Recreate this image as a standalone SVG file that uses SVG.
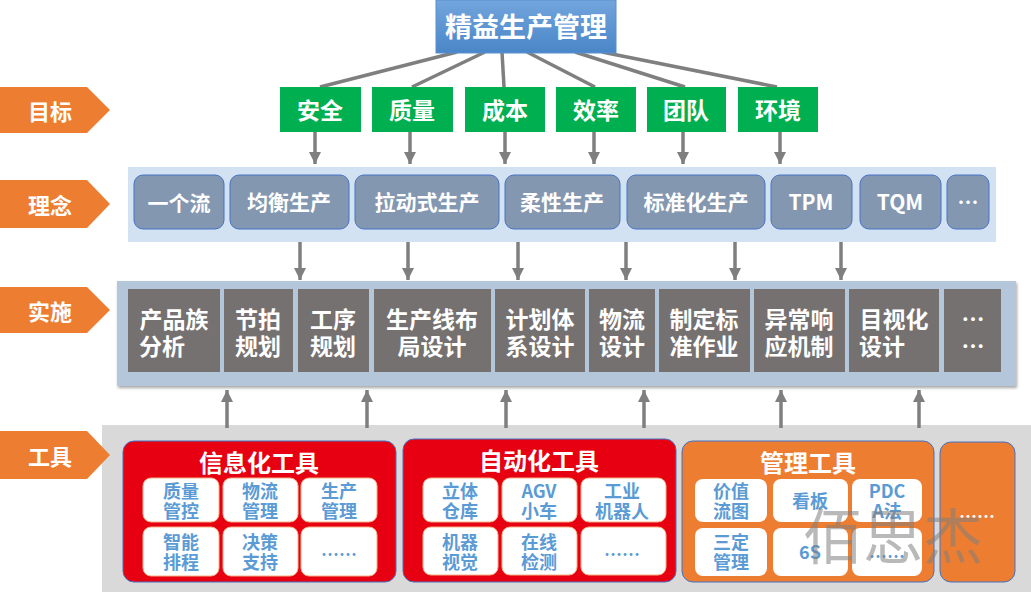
<svg xmlns="http://www.w3.org/2000/svg" width="1031" height="592" viewBox="0 0 1031 592">
<defs>
<linearGradient id="gTop" x1="0" y1="0" x2="0" y2="1">
<stop offset="0" stop-color="#72a5dc"/>
<stop offset="1" stop-color="#4a86c8"/>
</linearGradient>
<marker id="ah" markerUnits="userSpaceOnUse" markerWidth="14" markerHeight="12" refX="12" refY="6" orient="auto">
<path d="M0,0 L12,6 L0,12 Z" fill="#7f7f7f"/>
</marker>
<filter id="sh" x="-5%" y="-10%" width="110%" height="130%">
<feDropShadow dx="1" dy="2" stdDeviation="1.5" flood-color="#000" flood-opacity="0.35"/>
</filter>
<style>
text{font-family:"Noto Sans CJK SC","Liberation Sans",sans-serif;font-weight:bold;text-anchor:middle;dominant-baseline:central}
.w{fill:#fff}
.lbl{fill:#ed7d31}
.goal{fill:#00b050}
.idea{fill:#8497b0;stroke:#4472c4;stroke-width:1}
.impl{fill:#767171}
.inner{fill:#fff;stroke:#f4b183;stroke-width:1}
.it{fill:#5b9bd5;font-size:18px}
.conn{stroke:#7f7f7f;stroke-width:3.5;fill:none}
.arr{stroke:#7f7f7f;stroke-width:3.5;fill:none;marker-end:url(#ah)}
</style>
</defs>

<!-- panels -->
<rect x="128" y="167" width="868" height="75" fill="#d3e2f2"/>
<rect x="117" y="281" width="899" height="105" fill="#b4c7da" filter="url(#sh)"/>
<rect x="102" y="425" width="929" height="167" fill="#d9d9d9"/>

<!-- row labels -->
<g id="label-goal"><polygon class="lbl" points="0,87 87,87 110,110 87,133 0,133"/><text class="w" x="50" y="110" font-size="22">目标</text></g>
<g id="label-idea"><polygon class="lbl" points="0,180 87,180 110,204 87,228 0,228"/><text class="w" x="50" y="204" font-size="22">理念</text></g>
<g id="label-impl"><polygon class="lbl" points="0,287 87,287 110,310 87,333 0,333"/><text class="w" x="50" y="310" font-size="22">实施</text></g>
<g id="label-tool"><polygon class="lbl" points="0,431 87,431 110,455 87,479 0,479"/><text class="w" x="50" y="455" font-size="22">工具</text></g>

<!-- connectors -->
<g id="connectors">
<line class="conn" x1="457" y1="52" x2="320" y2="87"/>
<line class="conn" x1="485" y1="52" x2="412" y2="87"/>
<line class="conn" x1="502" y1="52" x2="504" y2="87"/>
<line class="conn" x1="527" y1="52" x2="595" y2="87"/>
<line class="conn" x1="575" y1="52" x2="685" y2="87"/>
<line class="conn" x1="602" y1="52" x2="777" y2="87"/>

<line class="arr" x1="315" y1="132" x2="315" y2="164"/>
<line class="arr" x1="410" y1="132" x2="410" y2="164"/>
<line class="arr" x1="505" y1="132" x2="505" y2="164"/>
<line class="arr" x1="594" y1="132" x2="594" y2="164"/>
<line class="arr" x1="683" y1="132" x2="683" y2="164"/>
<line class="arr" x1="780" y1="132" x2="780" y2="164"/>

<line class="arr" x1="300" y1="242" x2="300" y2="280"/>
<line class="arr" x1="408" y1="242" x2="408" y2="280"/>
<line class="arr" x1="518" y1="242" x2="518" y2="280"/>
<line class="arr" x1="626" y1="242" x2="626" y2="280"/>
<line class="arr" x1="735" y1="242" x2="735" y2="280"/>
<line class="arr" x1="841" y1="242" x2="841" y2="280"/>

<line class="arr" x1="227" y1="428" x2="227" y2="390"/>
<line class="arr" x1="367" y1="428" x2="367" y2="390"/>
<line class="arr" x1="506" y1="428" x2="506" y2="390"/>
<line class="arr" x1="644" y1="428" x2="644" y2="390"/>
<line class="arr" x1="781" y1="428" x2="781" y2="390"/>
<line class="arr" x1="919" y1="428" x2="919" y2="390"/>
</g>

<!-- top -->
<g id="top"><rect x="436" y="0" width="180" height="53" fill="url(#gTop)" stroke="#5b8fcf" stroke-width="1"/><text class="w" x="526" y="25" font-size="27">精益生产管理</text></g>

<!-- goals -->
<g id="goal-safety"><rect class="goal" x="280" y="87" width="81" height="45"/><text class="w" x="320" y="109" font-size="23">安全</text></g>
<g id="goal-quality"><rect class="goal" x="372" y="87" width="81" height="45"/><text class="w" x="412" y="109" font-size="23">质量</text></g>
<g id="goal-cost"><rect class="goal" x="465" y="87" width="80" height="45"/><text class="w" x="505" y="109" font-size="23">成本</text></g>
<g id="goal-eff"><rect class="goal" x="556" y="87" width="80" height="45"/><text class="w" x="596" y="109" font-size="23">效率</text></g>
<g id="goal-team"><rect class="goal" x="647" y="87" width="79" height="45"/><text class="w" x="686" y="109" font-size="23">团队</text></g>
<g id="goal-env"><rect class="goal" x="738" y="87" width="80" height="45"/><text class="w" x="778" y="109" font-size="23">环境</text></g>

<!-- ideas -->
<g id="idea-1"><rect class="idea" x="134" y="175" width="90" height="54" rx="9"/><text class="w" x="179" y="202" font-size="21">一个流</text></g>
<g id="idea-2"><rect class="idea" x="230" y="175" width="119" height="54" rx="9"/><text class="w" x="289" y="201" font-size="21">均衡生产</text></g>
<g id="idea-3"><rect class="idea" x="355" y="175" width="144" height="54" rx="9"/><text class="w" x="427" y="201" font-size="21">拉动式生产</text></g>
<g id="idea-4"><rect class="idea" x="505" y="175" width="115" height="54" rx="9"/><text class="w" x="562" y="201" font-size="21">柔性生产</text></g>
<g id="idea-5"><rect class="idea" x="627" y="175" width="138" height="54" rx="9"/><text class="w" x="696" y="201" font-size="21">标准化生产</text></g>
<g id="idea-6"><rect class="idea" x="771" y="175" width="81" height="54" rx="9"/><text class="w" x="811" y="201" font-size="21">TPM</text></g>
<g id="idea-7"><rect class="idea" x="860" y="175" width="81" height="54" rx="9"/><text class="w" x="900" y="201" font-size="21">TQM</text></g>
<g id="idea-8"><rect class="idea" x="947" y="175" width="42" height="54" rx="9"/><text class="w" x="968" y="201" font-size="21">…</text></g>

<!-- implementation -->
<g id="impl-1"><rect class="impl" x="128" y="289" width="92" height="83"/><text class="w" font-size="23"><tspan x="174" y="318">产品族</tspan><tspan x="162" y="345">分析</tspan></text></g>
<g id="impl-2"><rect class="impl" x="224" y="289" width="69" height="83"/><text class="w" font-size="23"><tspan x="258" y="318">节拍</tspan><tspan x="258" y="345">规划</tspan></text></g>
<g id="impl-3"><rect class="impl" x="298" y="289" width="71" height="83"/><text class="w" font-size="23"><tspan x="333" y="318">工序</tspan><tspan x="333" y="345">规划</tspan></text></g>
<g id="impl-4"><rect class="impl" x="374" y="289" width="117" height="83"/><text class="w" font-size="23"><tspan x="432" y="318">生产线布</tspan><tspan x="432" y="345">局设计</tspan></text></g>
<g id="impl-5"><rect class="impl" x="495" y="289" width="90" height="83"/><text class="w" font-size="23"><tspan x="540" y="318">计划体</tspan><tspan x="540" y="345">系设计</tspan></text></g>
<g id="impl-6"><rect class="impl" x="589" y="289" width="66" height="83"/><text class="w" font-size="23"><tspan x="622" y="318">物流</tspan><tspan x="622" y="345">设计</tspan></text></g>
<g id="impl-7"><rect class="impl" x="659" y="289" width="91" height="83"/><text class="w" font-size="23"><tspan x="704" y="318">制定标</tspan><tspan x="704" y="345">准作业</tspan></text></g>
<g id="impl-8"><rect class="impl" x="754" y="289" width="91" height="83"/><text class="w" font-size="23"><tspan x="799" y="318">异常响</tspan><tspan x="799" y="345">应机制</tspan></text></g>
<g id="impl-9"><rect class="impl" x="849" y="289" width="90" height="83"/><text class="w" font-size="23"><tspan x="894" y="318">目视化</tspan><tspan x="882" y="345">设计</tspan></text></g>
<g id="impl-10"><rect class="impl" x="944" y="289" width="57" height="83"/><text class="w" font-size="23"><tspan x="973" y="318">…</tspan><tspan x="973" y="345">…</tspan></text></g>

<!-- tools -->
<g id="tool-info">
<rect x="123" y="441" width="273" height="141" rx="11" fill="#e60012" stroke="#4472c4" stroke-width="1"/>
<text class="w" x="259" y="461" font-size="24">信息化工具</text>
<rect class="inner" x="143" y="478" width="76" height="44" rx="8"/><text class="it"><tspan x="181" y="490">质量</tspan><tspan x="181" y="510">管控</tspan></text>
<rect class="inner" x="223" y="478" width="75" height="44" rx="8"/><text class="it"><tspan x="260" y="490">物流</tspan><tspan x="260" y="510">管理</tspan></text>
<rect class="inner" x="301" y="478" width="76" height="44" rx="8"/><text class="it"><tspan x="339" y="490">生产</tspan><tspan x="339" y="510">管理</tspan></text>
<rect class="inner" x="143" y="527" width="76" height="49" rx="8"/><text class="it"><tspan x="181" y="541">智能</tspan><tspan x="181" y="561">排程</tspan></text>
<rect class="inner" x="223" y="527" width="75" height="49" rx="8"/><text class="it"><tspan x="260" y="541">决策</tspan><tspan x="260" y="561">支持</tspan></text>
<rect class="inner" x="301" y="527" width="76" height="49" rx="8"/><text class="it" x="339" y="553">……</text>
</g>

<g id="tool-auto">
<rect x="403" y="439" width="273" height="143" rx="11" fill="#e60012" stroke="#4472c4" stroke-width="1"/>
<text class="w" x="539" y="459" font-size="24">自动化工具</text>
<rect class="inner" x="423" y="478" width="75" height="44" rx="8"/><text class="it"><tspan x="460" y="490">立体</tspan><tspan x="460" y="510">仓库</tspan></text>
<rect class="inner" x="502" y="478" width="75" height="44" rx="8"/><text class="it"><tspan x="539" y="490">AGV</tspan><tspan x="539" y="510">小车</tspan></text>
<rect class="inner" x="581" y="478" width="85" height="44" rx="8"/><text class="it"><tspan x="622" y="490">工业</tspan><tspan x="622" y="510">机器人</tspan></text>
<rect class="inner" x="423" y="527" width="75" height="48" rx="8"/><text class="it"><tspan x="460" y="541">机器</tspan><tspan x="460" y="561">视觉</tspan></text>
<rect class="inner" x="502" y="527" width="75" height="48" rx="8"/><text class="it"><tspan x="539" y="541">在线</tspan><tspan x="539" y="561">检测</tspan></text>
<rect class="inner" x="581" y="527" width="85" height="48" rx="8"/><text class="it" x="622" y="553">……</text>
</g>

<g id="tool-mgmt">
<rect x="682" y="441" width="252" height="141" rx="11" fill="#ed7d31" stroke="#4472c4" stroke-width="1"/>
<text class="w" x="808" y="461" font-size="24">管理工具</text>
<rect x="695" y="479" width="72" height="43" rx="8" fill="#fff"/><text class="it"><tspan x="731" y="490">价值</tspan><tspan x="731" y="510">流图</tspan></text>
<rect x="773" y="479" width="75" height="43" rx="8" fill="#fff"/><text class="it" x="810" y="500">看板</text>
<rect x="852" y="479" width="70" height="43" rx="8" fill="#fff"/><text class="it"><tspan x="887" y="490">PDC</tspan><tspan x="887" y="510">A法</tspan></text>
<rect x="695" y="528" width="72" height="48" rx="8" fill="#fff"/><text class="it"><tspan x="731" y="541">三定</tspan><tspan x="731" y="561">管理</tspan></text>
<rect x="773" y="528" width="75" height="48" rx="8" fill="#fff"/><text class="it" x="810" y="551">6S</text>
<rect x="852" y="528" width="70" height="48" rx="8" fill="#fff"/><text class="it" x="887" y="555">……</text>
</g>

<g id="tool-more">
<rect x="940" y="442" width="75" height="140" rx="11" fill="#ed7d31" stroke="#4472c4" stroke-width="1"/>
<text class="w" x="977" y="515" font-size="18">……</text>
</g>

<text x="893" y="532" font-size="60" style="font-weight:normal;fill:#7f7f7f;fill-opacity:0.55">佰思杰</text>
</svg>
